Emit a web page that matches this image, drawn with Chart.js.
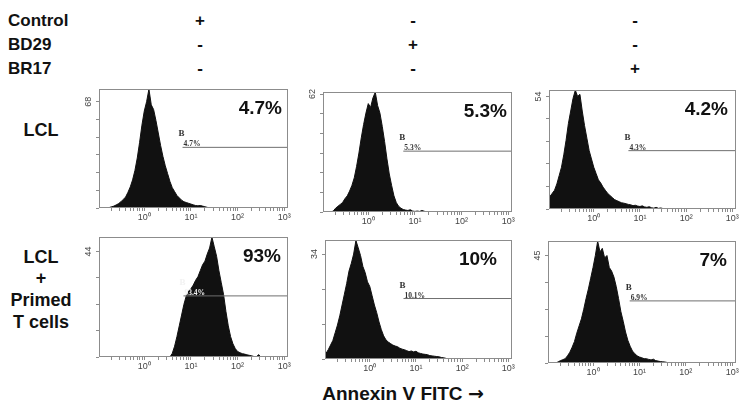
<!DOCTYPE html>
<html><head><meta charset="utf-8">
<script src="https://cdn.jsdelivr.net/npm/chart.js@4.4.0/dist/chart.umd.min.js"></script>
<style>
html,body{margin:0;padding:0;background:#fff;overflow:hidden;width:742px;height:406px;position:relative;}
.t{position:absolute;font-family:"Liberation Sans",Arial,sans-serif;font-weight:bold;color:#111;white-space:nowrap;line-height:1;}
.c{transform:translate(-50%,-50%);}
.l{transform:translate(0,-50%);}
.arrow{font-family:"DejaVu Sans",sans-serif;font-weight:bold;}
canvas{position:absolute;}
</style></head><body>
<script>
// ---------- DATA ----------
// histogram channel centres, in decades (log10 of Annexin V FITC intensity)
const bins = [
 -1.00,-0.95,-0.90,-0.85,-0.80,-0.75,-0.70,-0.65,-0.60,-0.55,
 -0.50,-0.45,-0.40,-0.35,-0.30,-0.25,-0.20,-0.15,-0.10,-0.05,
  0.00, 0.05, 0.10, 0.15, 0.20, 0.25, 0.30, 0.35, 0.40, 0.45,
  0.50, 0.55, 0.60, 0.65, 0.70, 0.75, 0.80, 0.85, 0.90, 0.95,
  1.00, 1.05, 1.10, 1.15, 1.20, 1.25, 1.30, 1.35, 1.40, 1.45,
  1.50, 1.55, 1.60, 1.65, 1.70, 1.75, 1.80, 1.85, 1.90, 1.95,
  2.00, 2.05, 2.10, 2.15, 2.20, 2.25, 2.30, 2.35, 2.40, 2.45,
  2.50];
// counts per channel
const lclControl = [
 0,0,0,0,0,0.3,0.8,1.2,2,2.8,
 4,5.5,7,10,13.5,18,24,32,42,53,
 62,68,76,66,63,56,48,40,33,27,
 22,17,13,10.5,8,6.5,5,4,3.5,3,
 2.5,2,1.6,1.4,1.6,1.2,0.8,0.4,0,0,
 0,0,0,0,0,0,0,0,0,0,
 0,0,0,0,0,0,0,0,0,0,
 0];
const lclBD29 = [
 0,0,0,0,0,0.5,2,3,4,5,
 7,8.5,11,14,18,24,31,39,46,52,
 57,55,60,63,56,52,45,37,28,20,
 14,8.5,5,3,2,1.3,1,0.8,1.2,0.5,
 0.3,0.5,0.3,0.8,0.4,0,0,0,0,0,
 0,0,0,0,0,0,0,0,0,0,
 0,0,0,0,0,0,0,0,0,0,
 0];
const lclBR17 = [
 5,6,7.5,9,12,16,20,26,33,41,
 47,53,57,54,55,47,40,34,28,24,
 20,17,14,12.5,10.5,9,7.5,6.5,5.5,4.5,
 4,3.5,3,2.8,2.5,2.2,2,1.6,1.8,1.4,
 1.2,1.5,1,0.8,1.1,0.6,0.4,0.8,0.3,0.5,
 0.2,0,0,0,0,0,0,0,0,0,
 0,0,0,0,0,0,0,0,0,0,
 0];
const tcellControl = [
 0,0,0,0,0,0,0,0,0,0,
 0,0,0,0,0,0,0,0,0,0,
 0,0,0,0,0,0,0,0,0,0,
 0,0,1.5,4.5,8.5,13,17.5,22,25.5,27.5,
 28.5,30,32,33.5,36,38.5,40,43,45.5,50,
 46,42,36,31,26,19,13,8.5,5.5,3.5,
 2.3,1.8,1.4,1.2,0.9,0.7,0.5,0.2,0,1,
 0];
const tcellBD29 = [
 0.5,1.8,3,4.5,6,8.5,11,14,17.5,21,
 24.5,28.5,31,34,38.4,36,33.5,30,28,25,
 23.5,20.5,17.5,15,12,9.5,7.5,6.2,5.5,5,
 4.5,4.2,4,3.5,3.2,3,2.7,2.4,2.6,2.3,
 2.5,2,1.8,1.6,1.5,1.4,1.1,1,0.9,0.8,
 0.7,0.5,0.4,0.2,0,0,0,0,0,0,
 0,0,0,0,0,0,0,0,0,0,
 0];
const tcellBR17 = [
 0,0,0,0,0,0.5,1,1.4,1.8,3,
 4.5,6.6,9,12.5,15.5,18.5,22.5,27,31,35.5,
 40,45,51,46.5,48,44,45,40,38.5,36,
 32,27,21.5,17.5,13,9.5,7,5,3.9,3,
 2.5,2.2,1.8,1.8,1.5,1.3,1.6,1,0.8,0.6,
 0.5,0.4,0.2,0,0,0,0,0,0,0,
 0,0,0,0,0,0,0,0,0,0,
 0];
const panelSeries = [lclControl, lclBD29, lclBR17, tcellControl, tcellBD29, tcellBR17];
const bigLabels   = ['4.7%','5.3%','4.2%','93%','10%','7%'];
const gateLabels  = ['4.7%','5.3%','4.3%','93.4%','10.1%','6.9%'];
const yTopLabels  = [68,62,54,44,34,45];
const yTickCounts = [6,6,5,4,3,4];
const yMaxValues  = [76,63,57,50,38.5,51];
const gateStarts  = [0.82,0.75,0.75,0.84,0.73,0.79];
const gateLevels  = [38.8,32,28,25.5,19.6,26];
const xMajorLabels = ['10\u2070','10\u00b9','10\u00b2','10\u00b3'];
const treatments = ['Control','BD29','BR17'];
const treatmentSigns = [['+','-','-'],['-','+','-'],['-','-','+']];
const rowLabels = [['LCL'],['LCL','+','Primed','T cells']];
const axisTitle = 'Annexin V FITC ';
const axisArrow = '\u2192';

// ---------- LAYOUT ----------
const boxes = [
 {l:99,t:87,w:189,h:121},{l:323,t:90,w:189,h:122},{l:549,t:88,w:187,h:121},
 {l:99,t:235,w:189,h:122},{l:325,t:238,w:187,h:121},{l:548,t:239,w:188,h:124}];
const bigInsets = [6,5,8,7,15,9];
const X_MIN=-0.97, X_MAX=3.08;
const PL=30, PT=8, PR=8, PB=20;

function addText(txt, x, y, size, cls){
  const d=document.createElement('div');
  d.className='t '+cls; d.textContent=txt;
  d.style.left=x+'px'; d.style.top=y+'px'; d.style.fontSize=size+'px';
  document.body.appendChild(d);
  return d;
}
const headerY=[20,44,68], colX=[200,413,635];
treatments.forEach((n,r)=>{
  addText(n,8,headerY[r],17,'l');
  treatmentSigns[r].forEach((s,c)=>addText(s,colX[c],headerY[r],17,'c'));
});
addText(rowLabels[0][0],41,130,18,'c');
const row2Y=[257,278,300,322];
rowLabels[1].forEach((s,k)=>addText(s,41,row2Y[k],18,'c'));
const title=addText(axisTitle,403,393,19,'c');
const arr=document.createElement('span'); arr.className='arrow'; arr.textContent=axisArrow; title.appendChild(arr);

const xTicks=[];
[-1,0,1,2].forEach(d=>{for(let k=1;k<=9;k++){const v=d+Math.log10(k); if(v>=X_MIN&&v<=X_MAX) xTicks.push(v);} });
xTicks.push(3);

function deco(i){
  return {id:'deco'+i, afterDraw(chart){
    const ctx=chart.ctx, a=chart.chartArea, xs=chart.scales.x, ys=chart.scales.y;
    ctx.save();
    ctx.strokeStyle='#8c8c8c'; ctx.lineWidth=1;
    ctx.strokeRect(Math.round(a.left)+0.5, Math.round(a.top)+0.5, Math.round(a.right-a.left)-1, Math.round(a.bottom-a.top)-1);
    // y top label, rotated
    ctx.save();
    ctx.fillStyle='#444'; ctx.font='9px "Liberation Sans", Arial, sans-serif';
    ctx.textAlign='center'; ctx.textBaseline='middle';
    ctx.translate(a.left-10, ys.getPixelForValue(yTopLabels[i]));
    ctx.rotate(-Math.PI/2);
    ctx.fillText(String(yTopLabels[i]),0,0);
    ctx.restore();
    // big percentage
    ctx.fillStyle='#111'; ctx.font='bold 19px "Liberation Sans", Arial, sans-serif';
    ctx.textAlign='right'; ctx.textBaseline='alphabetic';
    ctx.fillText(bigLabels[i], a.right-bigInsets[i], a.top+25);
    // gate marker labels
    const gx=xs.getPixelForValue(gateStarts[i]), gy=ys.getPixelForValue(gateLevels[i]);
    ctx.textAlign='left';
    ctx.fillStyle = i===3 ? '#f2f2f2' : '#333';
    ctx.font='bold 9px "Liberation Serif", serif';
    ctx.fillText('B', gx-4, gy-11);
    ctx.font='bold 7.5px "Liberation Serif", serif';
    ctx.fillText(gateLabels[i], gx+1, gy-1);
    ctx.restore();
  }};
}

boxes.forEach((b,i)=>{
  const cv=document.createElement('canvas');
  const W=b.w+PL+PR, H=b.h+PT+PB;
  cv.width=W; cv.height=H; cv.style.width=W+'px'; cv.style.height=H+'px';
  cv.style.left=(b.l-PL)+'px'; cv.style.top=(b.t-PT)+'px';
  document.body.appendChild(cv);
  const vals=panelSeries[i];
  const n=yTickCounts[i], top=yTopLabels[i];
  new Chart(cv,{
    type:'line',
    data:{datasets:[
      {data:[{x:gateStarts[i],y:gateLevels[i]},{x:X_MAX,y:gateLevels[i]}], borderColor:'#6f6f6f', borderWidth:1, pointRadius:0, fill:false},
      {data:bins.map((v,k)=>({x:v,y:vals[k]})), borderColor:'#111', backgroundColor:'#111', borderWidth:1, pointRadius:0, fill:'origin', tension:0}
    ]},
    options:{
      responsive:false, animation:false, devicePixelRatio:1,
      layout:{padding:{top:PT,right:PR,left:0,bottom:0}},
      plugins:{legend:{display:false},tooltip:{enabled:false}},
      scales:{
        x:{type:'linear',min:X_MIN,max:X_MAX,
          afterBuildTicks(s){s.ticks=xTicks.map(v=>({value:v}));},
          afterFit(s){s.height=PB;},
          ticks:{autoSkip:false,maxRotation:0,minRotation:0,padding:1,color:'#444',
            font:{family:'"Liberation Sans", Arial, sans-serif',size:9},
            callback(v){return (Number.isInteger(v)&&v>=0&&v<=3)?xMajorLabels[v]:'';}},
          grid:{drawOnChartArea:false,drawTicks:true,tickLength:3,color:'#8c8c8c'},
          border:{display:false}},
        y:{type:'linear',min:0,max:yMaxValues[i],
          afterBuildTicks(s){const t=[];for(let k=0;k<=n;k++)t.push({value:top*k/n});s.ticks=t;},
          afterFit(s){s.width=PL;},
          ticks:{callback(){return '';}},
          grid:{drawOnChartArea:false,drawTicks:true,tickLength:3,color:'#8c8c8c'},
          border:{display:false}}
      }
    },
    plugins:[deco(i)]
  });
});
</script>
</body></html>
